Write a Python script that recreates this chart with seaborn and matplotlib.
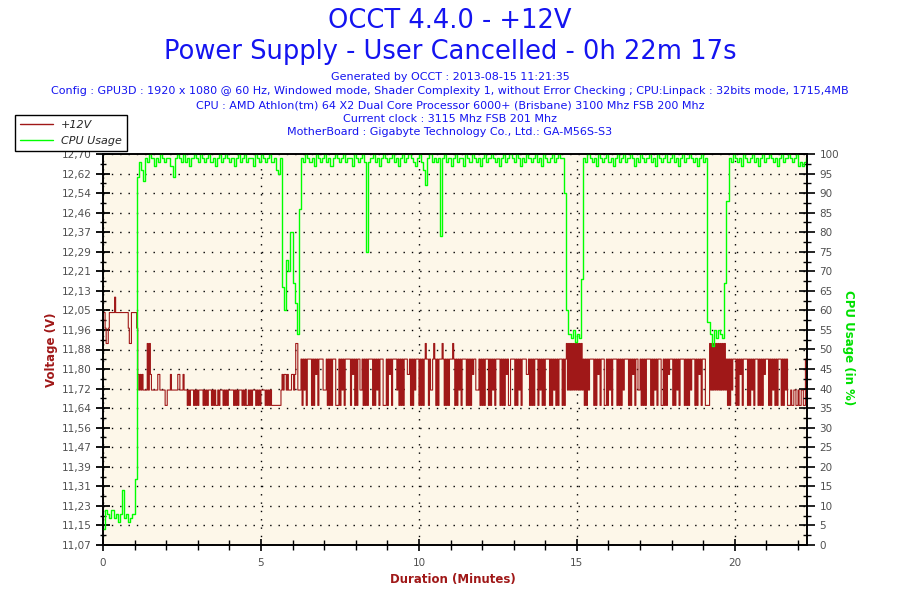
import numpy as np
import pandas as pd
import matplotlib
matplotlib.use("Agg")
import matplotlib.pyplot as plt
import seaborn as sns
from matplotlib.ticker import FixedLocator, MultipleLocator
from matplotlib.lines import Line2D

# ---------------- text ----------------
TITLE = "OCCT 4.4.0 - +12V"
SUBTITLE = "Power Supply - User Cancelled - 0h 22m 17s"
INFO_LINES = [
    "Generated by OCCT : 2013-08-15 11:21:35",
    "Config : GPU3D : 1920 x 1080 @ 60 Hz, Windowed mode, Shader Complexity 1, without Error Checking ; CPU:Linpack : 32bits mode, 1715,4MB",
    "CPU : AMD Athlon(tm) 64 X2 Dual Core Processor 6000+ (Brisbane) 3100 Mhz FSB 200 Mhz",
    "Current clock : 3115 Mhz FSB 201 Mhz",
    "MotherBoard : Gigabyte Technology Co., Ltd.: GA-M56S-S3",
]
LEGEND_LABELS = ["+12V", "CPU Usage"]
XLABEL = "Duration (Minutes)"
YLABEL_LEFT = "Voltage (V)"
YLABEL_RIGHT = "CPU Usage (in %)"

# ---------------- axes ----------------
DURATION_MIN = 22 + 17 / 60
VOLT_SAMPLE_SECONDS = 2
CPU_SAMPLE_SECONDS = 4
VOLT_MIN, VOLT_MAX = 11.07, 12.70
VOLT_TICK_LABELS = ["11,07", "11,15", "11,23", "11,31", "11,39", "11,47", "11,56",
                    "11,64", "11,72", "11,80", "11,88", "11,96", "12,05", "12,13",
                    "12,21", "12,29", "12,37", "12,46", "12,54", "12,62", "12,70"]
CPU_TICKS = list(range(0, 101, 5))
X_TICKS = [0, 5, 10, 15, 20]

# ---------------- data ----------------
# quantised +12V sensor levels (V)
VOLT_LEVELS = [11.652, 11.716, 11.781, 11.845, 11.910, 11.974, 12.039, 12.103]

# level index per 2-second sample
V_START = [6, 6, 5, 4, 4, 5, 6, 6, 6, 6, 6, 7, 6, 6, 6, 6, 6, 6, 6, 6,
           6, 6, 6, 6, 5, 4, 4, 6, 6, 6, 6, 6]
V_DROP = [5, 2, 1, 2, 1, 2, 1, 1, 1, 1, 4, 1, 4, 2, 1, 1, 1, 1, 1, 1,
          2, 2, 1, 1, 1, 1, 1, 0, 0, 1, 1, 1, 2, 1, 1, 1, 1, 1, 1, 2,
          2, 1, 1, 1, 2, 1, 1, 1]
V_IDLE = [0, 1, 0, 1, 1, 1, 0, 1, 0, 1, 0, 1, 1, 1, 1, 0, 1, 0, 1, 0,
          1, 1, 1, 0, 1, 0, 1, 0, 0, 1, 0, 1, 1, 1, 0, 1, 0, 1, 0, 1,
          1, 1, 1, 1, 0, 1, 0, 1, 0, 1, 1, 1, 0, 1, 0, 1, 0, 0, 1, 0,
          1, 0, 1, 1, 1, 0, 1, 0, 1, 0, 1, 1, 1, 1, 0, 1, 0, 1, 0, 1,
          0, 0, 0, 0, 0, 0, 0, 0, 0, 1]
V_RAMP = [2, 1, 2, 2, 1, 2, 1, 1, 1, 2, 2, 1, 2, 4, 4, 1, 1, 1]
V_LOAD_A = [3, 0, 3, 1, 3, 0, 3, 3, 3, 3, 0, 3, 0, 3, 2, 3, 0, 3, 3, 3,
            3, 1, 1, 1, 3, 0, 3, 0, 3, 0, 3, 3, 3, 0, 0, 0, 3, 0, 3, 1,
            3, 0, 3, 3, 3, 3, 3, 0, 3, 2, 3, 0, 3, 0, 3, 3, 1, 1, 3, 0,
            3, 0, 3, 0, 3, 3, 3, 3, 0, 3, 0, 3, 1, 3, 0, 3, 3, 3, 0, 0,
            0, 3, 0, 3, 2, 3, 0, 3, 3, 3, 3, 1, 3, 0, 3, 0, 3, 0, 3, 3,
            3, 2, 2, 3, 0, 3, 0, 3, 1, 3, 3, 3, 0, 3, 0, 3, 0, 3, 4, 3,
            3, 0, 3, 1, 1, 3, 4, 3, 0, 3, 0, 3, 3, 3, 4, 3, 0, 3, 0, 3,
            0, 3, 3, 3, 4, 3, 0, 3, 0, 3, 1, 3, 0, 3, 3, 3, 3, 0, 3, 0,
            3, 0, 3, 2, 3, 3, 1, 1, 1, 3, 0, 3, 0, 3, 0, 3, 3, 3, 0, 3,
            0, 3, 1, 3, 0, 3, 3, 3, 3, 0, 3, 0, 3, 0, 3, 2, 3, 0, 0, 3,
            3, 3, 3, 0, 3, 0, 3, 1, 3, 0, 3, 3, 3, 3, 2, 2, 3, 0, 3, 0,
            3, 0, 3, 3, 3, 0, 3, 1, 3, 0, 3, 0, 3, 3, 3, 3, 0, 3, 0, 3,
            1, 3, 0, 3, 0, 3, 3, 3, 0, 3, 0, 3]
V_PEAK_A = [4, 1, 4, 1, 4, 1, 4, 1, 4, 1, 4, 1, 4, 1, 4, 1]
V_LOAD_B = [3, 0, 3, 0, 3, 1, 3, 3, 3, 3, 0, 3, 0, 3, 2, 3, 0, 3, 3, 3,
            0, 0, 3, 0, 3, 1, 3, 0, 3, 3, 3, 3, 0, 3, 0, 3, 0, 3, 1, 3,
            3, 3, 3, 0, 3, 0, 3, 2, 3, 0, 3, 3, 1, 1, 3, 0, 3, 0, 3, 0,
            3, 3, 3, 3, 0, 3, 0, 3, 1, 3, 0, 3, 3, 3, 0, 0, 3, 0, 3, 0,
            3, 2, 3, 3, 3, 0, 3, 0, 3, 1, 3, 0, 3, 3, 3, 3, 0, 3, 0, 3,
            0, 3, 1, 3, 3, 3, 0, 3, 0, 3, 2, 3, 0, 3, 3, 3, 0, 0]
V_PEAK_B = [0, 0, 4, 1, 4, 1, 4, 1, 4, 1, 4, 1, 4, 1, 4, 1, 4, 1]
V_LOAD_C = [3, 0, 3, 0, 3, 1, 3, 3, 3, 0, 3, 0, 3, 2, 3, 0, 3, 3, 3, 3,
            0, 3, 0, 3, 1, 3, 0, 3, 3, 3, 0, 3, 0, 3, 0, 3, 2, 3, 3, 3,
            0, 3, 0, 3, 1, 3, 0, 3, 0, 3, 3, 3, 0, 3, 0, 3, 1, 3, 0, 0,
            0, 1, 0, 0, 1, 1, 0, 0, 1, 0, 0, 1, 1, 0, 0, 3, 3]

# CPU usage (%) per 4-second sample
C_START = [4, 9, 8, 7, 9, 7, 8, 6, 8, 14, 7, 8, 6, 7, 8, 17, 94]
C_LOAD_A = [98, 96, 93, 99, 98, 100, 99, 97, 99, 98,
            100, 99, 98, 99, 99, 97, 94, 99, 100, 99,
            98, 100, 98, 99, 97, 99, 100, 99, 98, 100,
            99, 98, 99, 100, 98, 99, 97, 99, 100, 98,
            99, 100, 99, 98, 99, 97, 99, 100, 98, 99,
            100, 98, 99, 99, 97, 100, 99, 98, 100, 99,
            98, 99, 100, 98, 99, 96, 95, 99]
C_DIP_A = [66, 60, 73, 70, 80, 67, 62, 54, 86]
C_LOAD_B = [99, 98, 100, 99, 98, 99, 97, 100, 99, 98,
            99, 100, 98, 99, 97, 99, 100, 99, 98, 99,
            100, 98, 99, 99, 97, 100, 99, 98, 99, 100,
            98, 75, 98, 99, 100, 98, 99, 97, 99, 100,
            99, 98, 99, 100, 98, 99, 97, 99, 100, 98,
            99, 100, 99, 98, 97, 99, 100, 98, 96, 92,
            99, 100, 98, 99, 98, 99, 79, 99, 100, 98,
            99, 97, 99, 100, 98, 99, 99, 97, 100, 99,
            98, 100, 99, 98, 99, 97, 99, 100, 98, 99,
            100, 99, 98, 99, 97, 99, 100, 98, 99, 100,
            99, 98, 100, 99, 97, 99, 98, 100, 99, 98,
            99, 100, 98, 99, 97, 100, 99, 98, 99, 100,
            98, 99, 100, 99, 99]
C_DIP_B = [90, 60, 54, 53, 55, 52, 54, 53, 68]
C_LOAD_C = [99, 98, 100, 99, 98, 99, 97, 100, 99, 98,
            99, 100, 98, 99, 97, 99, 100, 98, 99, 100,
            98, 99, 100, 99, 97, 99, 98, 100, 99, 98,
            99, 100, 98, 99, 97, 100, 99, 98, 99, 100,
            98, 99, 100, 98, 99, 97, 99, 100, 98, 99,
            100, 99, 98, 99, 97, 99, 100, 98, 99]
C_DIP_C = [57, 54, 51, 55, 53, 55, 54, 53, 67]
C_LOAD_D = [88, 99, 98, 100, 99, 98, 99, 97, 100, 99,
            98, 99, 100, 98, 99, 97, 99, 100, 98, 99,
            100, 99, 98, 99, 97, 99, 100, 98, 99, 100,
            99, 98, 99, 100, 97, 98, 97, 98, 99]

volt_idx = V_START + V_DROP + V_IDLE + V_RAMP + V_LOAD_A + V_PEAK_A + V_LOAD_B + V_PEAK_B + V_LOAD_C
cpu = C_START + C_LOAD_A + C_DIP_A + C_LOAD_B + C_DIP_B + C_LOAD_C + C_DIP_C + C_LOAD_D

volt_df = pd.DataFrame({
    "minutes": np.arange(len(volt_idx)) * VOLT_SAMPLE_SECONDS / 60.0,
    "volt": [VOLT_LEVELS[k] for k in volt_idx],
})
cpu_df = pd.DataFrame({
    "minutes": np.arange(len(cpu)) * CPU_SAMPLE_SECONDS / 60.0,
    "cpu": cpu,
})

# ---------------- style ----------------
VOLT_COLOR = "#A01818"
CPU_COLOR = "#00FF00"
TITLE_COLOR = "#1414F0"
TICK_COLOR = "#505050"
PLOT_BG = "#FDF7E9"

sns.set_theme(style="ticks")
plt.rcParams["font.family"] = ["DejaVu Sans"]

fig = plt.figure(figsize=(9, 6), dpi=100)
fig.patch.set_facecolor("white")
ax = fig.add_axes([103 / 900, 1 - 545 / 600, 704 / 900, 391 / 600])
ax.set_facecolor(PLOT_BG)
ax2 = ax.twinx()

sns.lineplot(data=volt_df, x="minutes", y="volt", ax=ax, color=VOLT_COLOR, linewidth=0.8,
             drawstyle="steps-post", estimator=None, legend=False)
sns.lineplot(data=cpu_df, x="minutes", y="cpu", ax=ax2, color=CPU_COLOR, linewidth=1.0,
             drawstyle="steps-post", estimator=None, legend=False)

ax.set_xlim(0, DURATION_MIN)
ax.set_ylim(VOLT_MIN, VOLT_MAX)
ax2.set_ylim(0, 100)

vt = np.linspace(VOLT_MIN, VOLT_MAX, len(VOLT_TICK_LABELS))
ax.yaxis.set_major_locator(FixedLocator(vt))
ax.set_yticklabels(VOLT_TICK_LABELS)
ax.yaxis.set_minor_locator(FixedLocator((vt[:-1] + vt[1:]) / 2))
ax.xaxis.set_major_locator(FixedLocator(X_TICKS))
ax.set_xticklabels([str(v) for v in X_TICKS])
ax.xaxis.set_minor_locator(MultipleLocator(1))
ax2.yaxis.set_major_locator(FixedLocator(CPU_TICKS))
ax2.set_yticklabels([str(v) for v in CPU_TICKS])
ax2.yaxis.set_minor_locator(MultipleLocator(2.5))

ax.set_xlabel("")
ax.set_ylabel("")
ax2.set_ylabel("")

ax.tick_params(axis="y", which="major", direction="inout", length=10, width=1.3,
               labelsize=7.5, labelcolor=TICK_COLOR, color="black", pad=3)
ax.tick_params(axis="y", which="minor", direction="inout", length=5, width=1.0, color="black")
ax.tick_params(axis="x", which="major", direction="inout", length=8, width=1.2,
               labelsize=7.5, labelcolor=TICK_COLOR, color="black", pad=5)
ax.tick_params(axis="x", which="minor", direction="inout", length=7, width=1.0, color="black")
ax2.tick_params(axis="y", which="major", direction="inout", length=12, width=1.2,
                labelsize=7.5, labelcolor=TICK_COLOR, color="black", pad=3)
ax2.tick_params(axis="y", which="minor", direction="inout", length=6, width=1.0, color="black")

ax.grid(True, which="major", axis="both", color="black", linestyle=(0, (1, 5)), linewidth=1.0)
ax2.grid(False)
for a in (ax, ax2):
    for s in a.spines.values():
        s.set_visible(True)
        s.set_color("black")
        s.set_linewidth(1.2)

# ---------------- texts ----------------
fig.text(0.5, 1 - 21 / 600, TITLE, ha="center", va="center", fontsize=18.5, color=TITLE_COLOR)
fig.text(0.5, 1 - 52 / 600, SUBTITLE, ha="center", va="center", fontsize=18.5, color=TITLE_COLOR)
for k, line in enumerate(INFO_LINES):
    y = [77, 91, 105, 119, 132][k]
    fig.text(0.5, 1 - y / 600, line, ha="center", va="center", fontsize=8, color=TITLE_COLOR)

fig.text(52 / 900, 1 - 350 / 600, YLABEL_LEFT, rotation=90, ha="center", va="center",
         fontsize=8.5, fontweight="bold", color=VOLT_COLOR)
fig.text(848 / 900, 1 - 348 / 600, YLABEL_RIGHT, rotation=-90, ha="center", va="center",
         fontsize=8.5, fontweight="bold", color="#00E000")
fig.text(453 / 900, 1 - 580 / 600, XLABEL, ha="center", va="center",
         fontsize=8.5, fontweight="bold", color=VOLT_COLOR)

handles = [Line2D([], [], color=VOLT_COLOR, lw=1.0), Line2D([], [], color=CPU_COLOR, lw=1.0)]
leg = fig.legend(handles, LEGEND_LABELS, loc="upper left",
                 bbox_to_anchor=(15 / 900, 1 - 115 / 600), bbox_transform=fig.transFigure,
                 frameon=True, fancybox=False, edgecolor="black", facecolor="white",
                 framealpha=1, borderpad=0.45, borderaxespad=0, handlelength=3.0,
                 handletextpad=0.7, labelspacing=0.55,
                 prop={"style": "italic", "size": 8})
leg.get_frame().set_linewidth(1.0)
leg.set_zorder(10)

fig.savefig("out.png", dpi=100, facecolor="white")
